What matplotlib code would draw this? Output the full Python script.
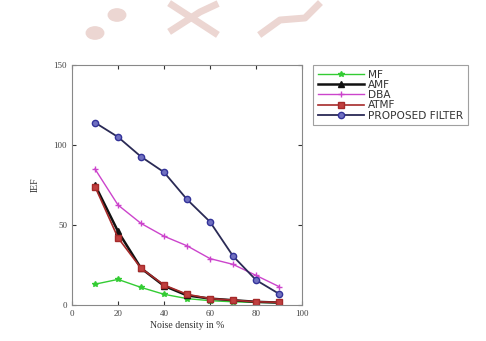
import matplotlib.pyplot as plt
import numpy as np

noise = [10, 20, 30, 40, 50, 60, 70, 80, 90]
mf = [13, 16, 11, 6.7, 4, 2.7, 2, 1.6, 1.4]
amf = [75, 46, 23, 12, 6, 4, 3, 2, 1.5]
dba = [85, 62.5, 51, 43, 37, 29, 25.4, 18.5, 11.5]
atmf = [74, 42, 23, 12.5, 6.7, 4, 3, 2, 1.7]
proposed = [114, 105, 92.7, 83, 66, 52, 30.6, 15.6, 7]

labels = ['MF', 'AMF', 'DBA', 'ATMF', 'PROPOSED FILTER']

plt.rcParams['font.family'] = ['Liberation Serif', 'DejaVu Serif']

fig = plt.figure(figsize=(4.86, 3.41), dpi=100)
ax = fig.add_axes([72/486, 1-305/341, 230/486, 240/341])

# faint watermark at the top of the page
wm = '#ecd6d2'
for cx, cy, r in [(95/486, 1-33/341, 0.018), (117/486, 1-15/341, 0.018)]:
    fig.patches.append(plt.Circle((cx, cy), r, transform=fig.transFigure,
                                  color=wm, zorder=0))
fig.add_artist(plt.Line2D([172/486, 215/486], [1-5/341, 1-33/341],
                          transform=fig.transFigure, color=wm, lw=5))
fig.add_artist(plt.Line2D([172/486, 200/486, 215/486], [1-30/341, 1-12/341, 1-5/341],
                          transform=fig.transFigure, color=wm, lw=5))
fig.add_artist(plt.Line2D([262/486, 280/486, 305/486, 318/486], [1-33/341, 1-20/341, 1-18/341, 1-5/341],
                          transform=fig.transFigure, color=wm, lw=5))

ax.plot(noise, mf, color='#33cc33', marker='*', ms=4, lw=1, label=labels[0])
ax.plot(noise, amf, color='#111111', marker='^', ms=4, lw=1.8, label=labels[1])
ax.plot(noise, dba, color='#cc44cc', marker='+', ms=5, lw=1, label=labels[2])
ax.plot(noise, atmf, color='#a52a2a', marker='s', ms=5, lw=1.2, mfc='#c04040', label=labels[3])
ax.plot(noise, proposed, color='#2a2a55', marker='o', ms=4.5, lw=1.3,
        mfc='#7070c0', mec='#333399', label=labels[4])

ax.set_xlim(0, 100)
ax.set_ylim(0, 150)
ax.set_xticks(np.arange(0, 101, 20))
ax.set_yticks([0, 50, 100, 150])
ax.tick_params(direction='in', labelsize=6.5, length=3, top=True, right=True,
               colors='#333333', labelcolor='#444444')
for s in ax.spines.values():
    s.set_color('#888888')
    s.set_linewidth(0.8)
ax.set_xlabel('Noise density in %', fontsize=7, color='#333333', labelpad=2)
ax.set_ylabel('IEF', fontsize=7, color='#333333', labelpad=10)

leg = fig.legend(loc='upper left', bbox_to_anchor=(313/486, 1-65/341),
                 prop={'family': 'DejaVu Sans', 'size': 7.6},
                 frameon=True, fancybox=False, handlelength=4.4,
                 borderpad=0.45, labelspacing=0.02, borderaxespad=0, handletextpad=0.4)
leg.get_frame().set_edgecolor('#888888')
leg.get_frame().set_linewidth(0.8)
for t in leg.get_texts():
    t.set_color('#333333')

fig.savefig('out.png', dpi=100)
